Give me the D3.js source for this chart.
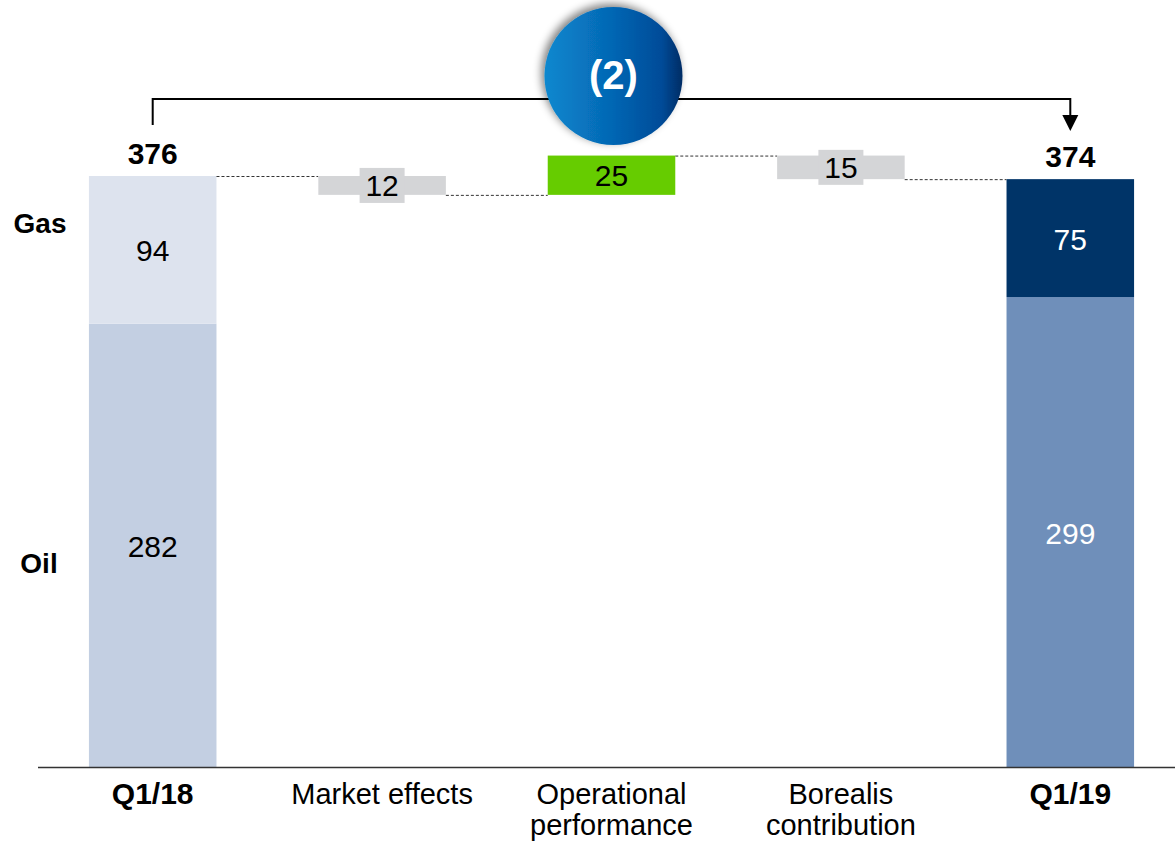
<!DOCTYPE html>
<html>
<head>
<meta charset="utf-8">
<script src="https://cdn.jsdelivr.net/npm/d3@7"></script>
<style>
  html, body { margin: 0; padding: 0; background: #fff; }
  svg { display: block; font-family: "Liberation Sans", Arial, sans-serif; }
</style>
</head>
<body>
<svg id="chart" width="1175" height="841"></svg>
<script>
// Bridge categories (x axis), with two-line labels split by "\n"
const categories = ["Q1/18", "Market effects", "Operational\nperformance", "Borealis\ncontribution", "Q1/19"];
const boldCategory = [true, false, false, false, true];

// Start and end totals, split by segment
const startOil = 282, startGas = 94;
const endOil = 299, endGas = 75;

// Changes between the two totals
const deltas = [-12, 25, -15];
const deltaColors = ["#d4d5d7", "#66cc00", "#d4d5d7"];

const svg = d3.select("#chart");
const W = 1175, H = 841;

const x = d3.scaleBand().domain(categories).range([38, 1185]).paddingInner(0.444).paddingOuter(0.222);
const y = d3.scaleLinear().domain([0, 376]).range([767, 176]);

const bw = x.bandwidth();

// Stacked totals
const totals = [
  { cat: categories[0], segs: [
      { v0: 0, v1: startOil, color: "#c3cfe2", label: startOil, text: "#000" },
      { v0: startOil, v1: startOil + startGas, color: "#dde3ee", label: startGas, text: "#000" } ] },
  { cat: categories[4], segs: [
      { v0: 0, v1: endOil, color: "#6f8fba", label: endOil, text: "#fff" },
      { v0: endOil, v1: endOil + endGas, color: "#003468", label: endGas, text: "#fff" } ] }
];

totals.forEach(t => {
  t.segs.forEach(s => {
    svg.append("rect")
      .attr("x", x(t.cat)).attr("width", bw)
      .attr("y", y(s.v1)).attr("height", y(s.v0) - y(s.v1))
      .attr("fill", s.color);
    svg.append("text")
      .attr("x", x(t.cat) + bw / 2)
      .attr("y", (y(s.v0) + y(s.v1)) / 2 + 11.5)
      .attr("text-anchor", "middle")
      .attr("font-size", 30)
      .attr("fill", s.text)
      .text(s.label);
  });
  const top = t.segs[t.segs.length - 1].v1;
  svg.append("text")
    .attr("x", x(t.cat) + bw / 2)
    .attr("y", y(top) - 12.5)
    .attr("text-anchor", "middle")
    .attr("font-size", 30).attr("font-weight", "bold")
    .text(top);
});

// Floating change bars
let running = startOil + startGas;
const steps = deltas.map((d, i) => {
  const from = running;
  running += d;
  return { cat: categories[i + 1], from, to: running, d, color: deltaColors[i] };
});

// Dashed connectors between consecutive bars
const levels = [startOil + startGas, ...steps.map(s => s.to)];
const xs = categories.map(c => x(c));
for (let i = 0; i < 4; i++) {
  svg.append("line")
    .attr("x1", xs[i] + bw).attr("x2", xs[i + 1])
    .attr("y1", y(levels[i]) + 0.5).attr("y2", y(levels[i]) + 0.5)
    .attr("stroke", "#333").attr("stroke-width", 1)
    .attr("stroke-dasharray", "3,2");
}

steps.forEach(s => {
  const hi = Math.max(s.from, s.to), lo = Math.min(s.from, s.to);
  svg.append("rect")
    .attr("x", x(s.cat)).attr("width", bw)
    .attr("y", y(hi)).attr("height", y(lo) - y(hi))
    .attr("fill", s.color);
  const cx = x(s.cat) + bw / 2, cy = (y(hi) + y(lo)) / 2;
  if (s.d < 0) {
    svg.append("rect")
      .attr("x", cx - 22.5).attr("y", cy - 17.5)
      .attr("width", 45).attr("height", 35)
      .attr("fill", s.color);
  }
  svg.append("text")
    .attr("x", cx).attr("y", cy + 10.5)
    .attr("text-anchor", "middle")
    .attr("font-size", 30)
    .text(Math.abs(s.d));
});

// Baseline
svg.append("line")
  .attr("x1", 38).attr("x2", W)
  .attr("y1", y(0) + 0.5).attr("y2", y(0) + 0.5)
  .attr("stroke", "#333").attr("stroke-width", 1.5);

// Category labels
categories.forEach((c, i) => {
  const lines = c.split("\n");
  const t = svg.append("text")
    .attr("x", x(c) + bw / 2)
    .attr("y", 804)
    .attr("text-anchor", "middle")
    .attr("font-size", boldCategory[i] ? 30 : 29)
    .attr("font-weight", boldCategory[i] ? "bold" : "normal");
  lines.forEach((l, j) => {
    t.append("tspan").attr("x", x(c) + bw / 2).attr("dy", j === 0 ? 0 : 31).text(l);
  });
});

// Segment names on the left
svg.append("text").attr("x", 40).attr("y", 233).attr("text-anchor", "middle")
  .attr("font-size", 28).attr("font-weight", "bold").text("Gas");
svg.append("text").attr("x", 39).attr("y", 573).attr("text-anchor", "middle")
  .attr("font-size", 28).attr("font-weight", "bold").text("Oil");

// Bracket from start total to end total, ending in an arrowhead
const bx1 = x(categories[0]) + bw / 2, bx2 = x(categories[4]) + bw / 2;
svg.append("path")
  .attr("d", `M${bx1},125 V99 H${bx2} V116`)
  .attr("fill", "none").attr("stroke", "#000").attr("stroke-width", 2);
svg.append("path")
  .attr("d", `M${bx2 - 8},115 H${bx2 + 8} L${bx2},131 Z`)
  .attr("fill", "#000");

// Difference badge
const defs = svg.append("defs");
const grad = defs.append("linearGradient").attr("id", "badge")
  .attr("x1", "0%").attr("x2", "100%").attr("y1", "0%").attr("y2", "0%");
grad.append("stop").attr("offset", "0%").attr("stop-color", "#0a88cf");
grad.append("stop").attr("offset", "50%").attr("stop-color", "#0566b3");
grad.append("stop").attr("offset", "85%").attr("stop-color", "#034b98");
grad.append("stop").attr("offset", "100%").attr("stop-color", "#022c64");

const shadow = defs.append("filter").attr("id", "shadow")
  .attr("x", "-30%").attr("y", "-30%").attr("width", "160%").attr("height", "160%");
shadow.append("feGaussianBlur").attr("in", "SourceAlpha").attr("stdDeviation", 4);
shadow.append("feOffset").attr("dx", -3).attr("dy", -3).attr("result", "b");
shadow.append("feComponentTransfer").append("feFuncA").attr("type", "linear").attr("slope", 0.5);
const merge = shadow.append("feMerge");
merge.append("feMergeNode");
merge.append("feMergeNode").attr("in", "SourceGraphic");

const bcx = (x(categories[2]) + bw / 2) + 2, bcy = 76;
svg.append("circle")
  .attr("cx", bcx).attr("cy", bcy).attr("r", 69)
  .attr("fill", "url(#badge)")
  .attr("filter", "url(#shadow)");
svg.append("text")
  .attr("x", bcx).attr("y", bcy + 13)
  .attr("text-anchor", "middle")
  .attr("font-size", 40).attr("font-weight", "bold").attr("fill", "#fff")
  .text(`(${Math.abs(endOil + endGas - (startOil + startGas))})`);
</script>
</body>
</html>
